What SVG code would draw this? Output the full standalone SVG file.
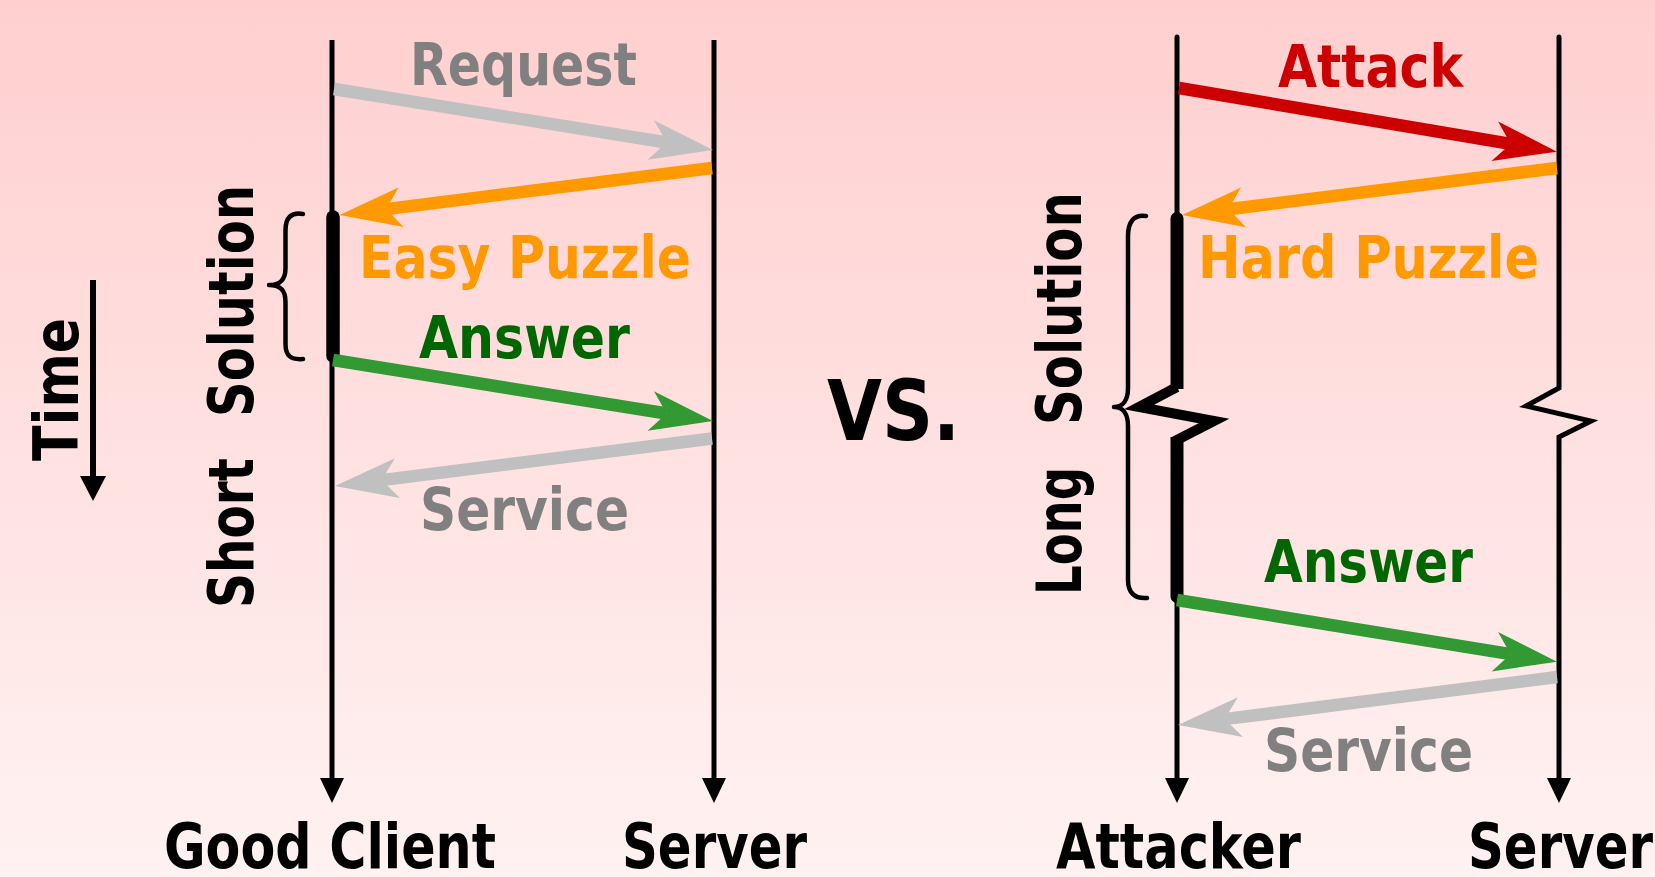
<svg xmlns="http://www.w3.org/2000/svg" width="1655" height="877" viewBox="0 0 1655 877">
  <defs>
    <linearGradient id="bg" x1="0" y1="0" x2="0" y2="1">
      <stop offset="0" stop-color="#FFCFCF"/>
      <stop offset="1" stop-color="#FFF2F2"/>
    </linearGradient>
    <!-- swept message arrowheads: shaft ends at the notch (0,0), tip sits 47 units ahead -->
    <marker id="head-gray" markerUnits="userSpaceOnUse" orient="auto" refX="0" refY="0" markerWidth="10" markerHeight="10" overflow="visible">
      <path d="M47,0 L-16,-20 L0,0 L-16,20 Z" fill="#C0C0C0"/>
    </marker>
    <marker id="head-orange" markerUnits="userSpaceOnUse" orient="auto" refX="0" refY="0" markerWidth="10" markerHeight="10" overflow="visible">
      <path d="M47,0 L-15,-20 L0,0 L-15,20 Z" fill="#FF9900"/>
    </marker>
    <marker id="head-green" markerUnits="userSpaceOnUse" orient="auto" refX="0" refY="0" markerWidth="10" markerHeight="10" overflow="visible">
      <path d="M47,0 L-16,-20 L0,0 L-16,20 Z" fill="#339933"/>
    </marker>
    <marker id="head-red" markerUnits="userSpaceOnUse" orient="auto" refX="0" refY="0" markerWidth="10" markerHeight="10" overflow="visible">
      <path d="M47,0 L-16,-20 L0,0 L-16,20 Z" fill="#CC0000"/>
    </marker>
  </defs>
  <style>
    .txt { font-family: "DejaVu Sans", "Liberation Sans", sans-serif; font-weight: bold; font-stretch: condensed; }
    .msg { font-size: 59px; }
    .who { font-size: 63px; fill: #000; }
    .life { stroke: #000; stroke-width: 5; fill: none; }
    .shaft { fill: none; stroke-width: 12.5; }
    .brace { fill: none; stroke: #000; stroke-width: 4.5; stroke-linecap: round; stroke-linejoin: round; }
  </style>

  <rect x="0" y="0" width="1655" height="877" fill="url(#bg)"/>

  <!-- time axis -->
  <g id="time-axis">
    <line x1="93" y1="280" x2="93" y2="478" stroke="#000" stroke-width="6"/>
    <path d="M80,476 L106,476 L93,501 Z" fill="#000"/>
    <text class="txt" font-size="63" transform="translate(78,461) rotate(-90)" textLength="143" lengthAdjust="spacingAndGlyphs">Time</text>
  </g>

  <!-- good client lifeline -->
  <g id="good-client">
    <line class="life" x1="332" y1="40" x2="332" y2="780"/>
    <path d="M320,778 L344,778 L332,803 Z" fill="#000"/>
    <line x1="333" y1="217" x2="333" y2="356" stroke="#000" stroke-width="13.5" stroke-linecap="round"/>
    <path class="brace" d="M303,214 C291,212 285.5,218 285.5,230 L285.5,268 C285.5,280 280,285 269,285 C280,285 285.5,290 285.5,302 L285.5,344 C285.5,356 291,360 303,359"/>
    <text class="txt" font-size="63" transform="translate(253,608) rotate(-90)"><tspan x="0" textLength="150" lengthAdjust="spacingAndGlyphs">Short</tspan><tspan x="191" textLength="232" lengthAdjust="spacingAndGlyphs">Solution</tspan></text>
    <text class="txt who" x="164" y="868" textLength="332" lengthAdjust="spacingAndGlyphs">Good Client</text>
  </g>

  <!-- server lifeline (left exchange) -->
  <g id="server-left">
    <line class="life" x1="714" y1="40" x2="714" y2="780"/>
    <path d="M702,778 L726,778 L714,803 Z" fill="#000"/>
    <text class="txt who" x="622" y="868" textLength="185" lengthAdjust="spacingAndGlyphs">Server</text>
  </g>

  <!-- attacker lifeline with a broken (long) solving period -->
  <g id="attacker">
    <line class="life" x1="1177" y1="37" x2="1177" y2="220" stroke-linecap="round"/>
    <line class="life" x1="1177" y1="596" x2="1177" y2="780"/>
    <path d="M1165,778 L1189,778 L1177,803 Z" fill="#000"/>
    <path d="M1170.5,389 L1170.5,218.5 A6.5,6.5 0 0 1 1183.5,218.5 L1183.5,389 Z" fill="#000"/>
    <path d="M1170.5,437 L1183.5,437 L1183.5,596.5 A6.5,6.5 0 0 1 1170.5,596.5 Z" fill="#000"/>
    <polyline points="1177,387 1139,407 1214,421 1174,441.5" fill="none" stroke="#000" stroke-width="10" stroke-linejoin="miter"/>
    <path class="brace" d="M1146,216 C1134,214 1128,222 1128,236 L1128,388 C1128,400 1123,407 1114,407 C1123,407 1128,414 1128,426 L1128,580 C1128,592 1134,599 1147,598"/>
    <text class="txt" font-size="62" transform="translate(1081,595) rotate(-90)"><tspan x="0" textLength="128" lengthAdjust="spacingAndGlyphs">Long</tspan><tspan x="170" textLength="233" lengthAdjust="spacingAndGlyphs">Solution</tspan></text>
    <text class="txt who" x="1056" y="868" textLength="245" lengthAdjust="spacingAndGlyphs">Attacker</text>
  </g>

  <!-- server lifeline (right exchange), broken by the same time gap -->
  <g id="server-right">
    <polyline points="1559,37 1559,388 1526,406 1591,421 1559,437 1559,780" fill="none" stroke="#000" stroke-width="5" stroke-linejoin="miter" stroke-linecap="round"/>
    <path d="M1547,778 L1571,778 L1559,803 Z" fill="#000"/>
    <text class="txt who" x="1468" y="868" textLength="185" lengthAdjust="spacingAndGlyphs">Server</text>
  </g>

  <g id="versus">
    <text class="txt" x="827" y="440" font-size="84" textLength="133" lengthAdjust="spacingAndGlyphs">VS.</text>
  </g>

  <!-- message arrows -->
  <g id="connectors">
    <path class="shaft" d="M334,89 L666.6,142.5" stroke="#C0C0C0" marker-end="url(#head-gray)"/>
    <path class="shaft" d="M712,168 L386.2,209.1" stroke="#FF9900" marker-end="url(#head-orange)"/>
    <path class="shaft" d="M333,360 L666.6,413.5" stroke="#339933" marker-end="url(#head-green)"/>
    <path class="shaft" d="M712,438.5 L381.6,480.1" stroke="#C0C0C0" marker-end="url(#head-gray)"/>

    <path class="shaft" d="M1179,88 L1510.6,143.9" stroke="#CC0000" marker-end="url(#head-red)"/>
    <path class="shaft" d="M1557,168 L1228.6,209.2" stroke="#FF9900" marker-end="url(#head-orange)"/>
    <path class="shaft" d="M1177,600 L1510.6,654.2" stroke="#339933" marker-end="url(#head-green)"/>
    <path class="shaft" d="M1557,677 L1224.6,719.1" stroke="#C0C0C0" marker-end="url(#head-gray)"/>

    <text class="txt msg" x="410" y="85" fill="#808080" textLength="227" lengthAdjust="spacingAndGlyphs">Request</text>
    <text class="txt msg" x="359" y="278" fill="#FF9900" textLength="332" lengthAdjust="spacingAndGlyphs">Easy Puzzle</text>
    <text class="txt msg" x="419" y="358" fill="#006600" textLength="211" lengthAdjust="spacingAndGlyphs">Answer</text>
    <text class="txt msg" x="420" y="530" fill="#808080" textLength="209" lengthAdjust="spacingAndGlyphs">Service</text>

    <text class="txt msg" x="1278" y="87" fill="#CC0000" textLength="185" lengthAdjust="spacingAndGlyphs">Attack</text>
    <text class="txt msg" x="1198" y="278" fill="#FF9900" textLength="341" lengthAdjust="spacingAndGlyphs">Hard Puzzle</text>
    <text class="txt msg" x="1264" y="582" fill="#006600" textLength="209" lengthAdjust="spacingAndGlyphs">Answer</text>
    <text class="txt msg" x="1264" y="771" fill="#808080" textLength="209" lengthAdjust="spacingAndGlyphs">Service</text>
  </g>
</svg>
